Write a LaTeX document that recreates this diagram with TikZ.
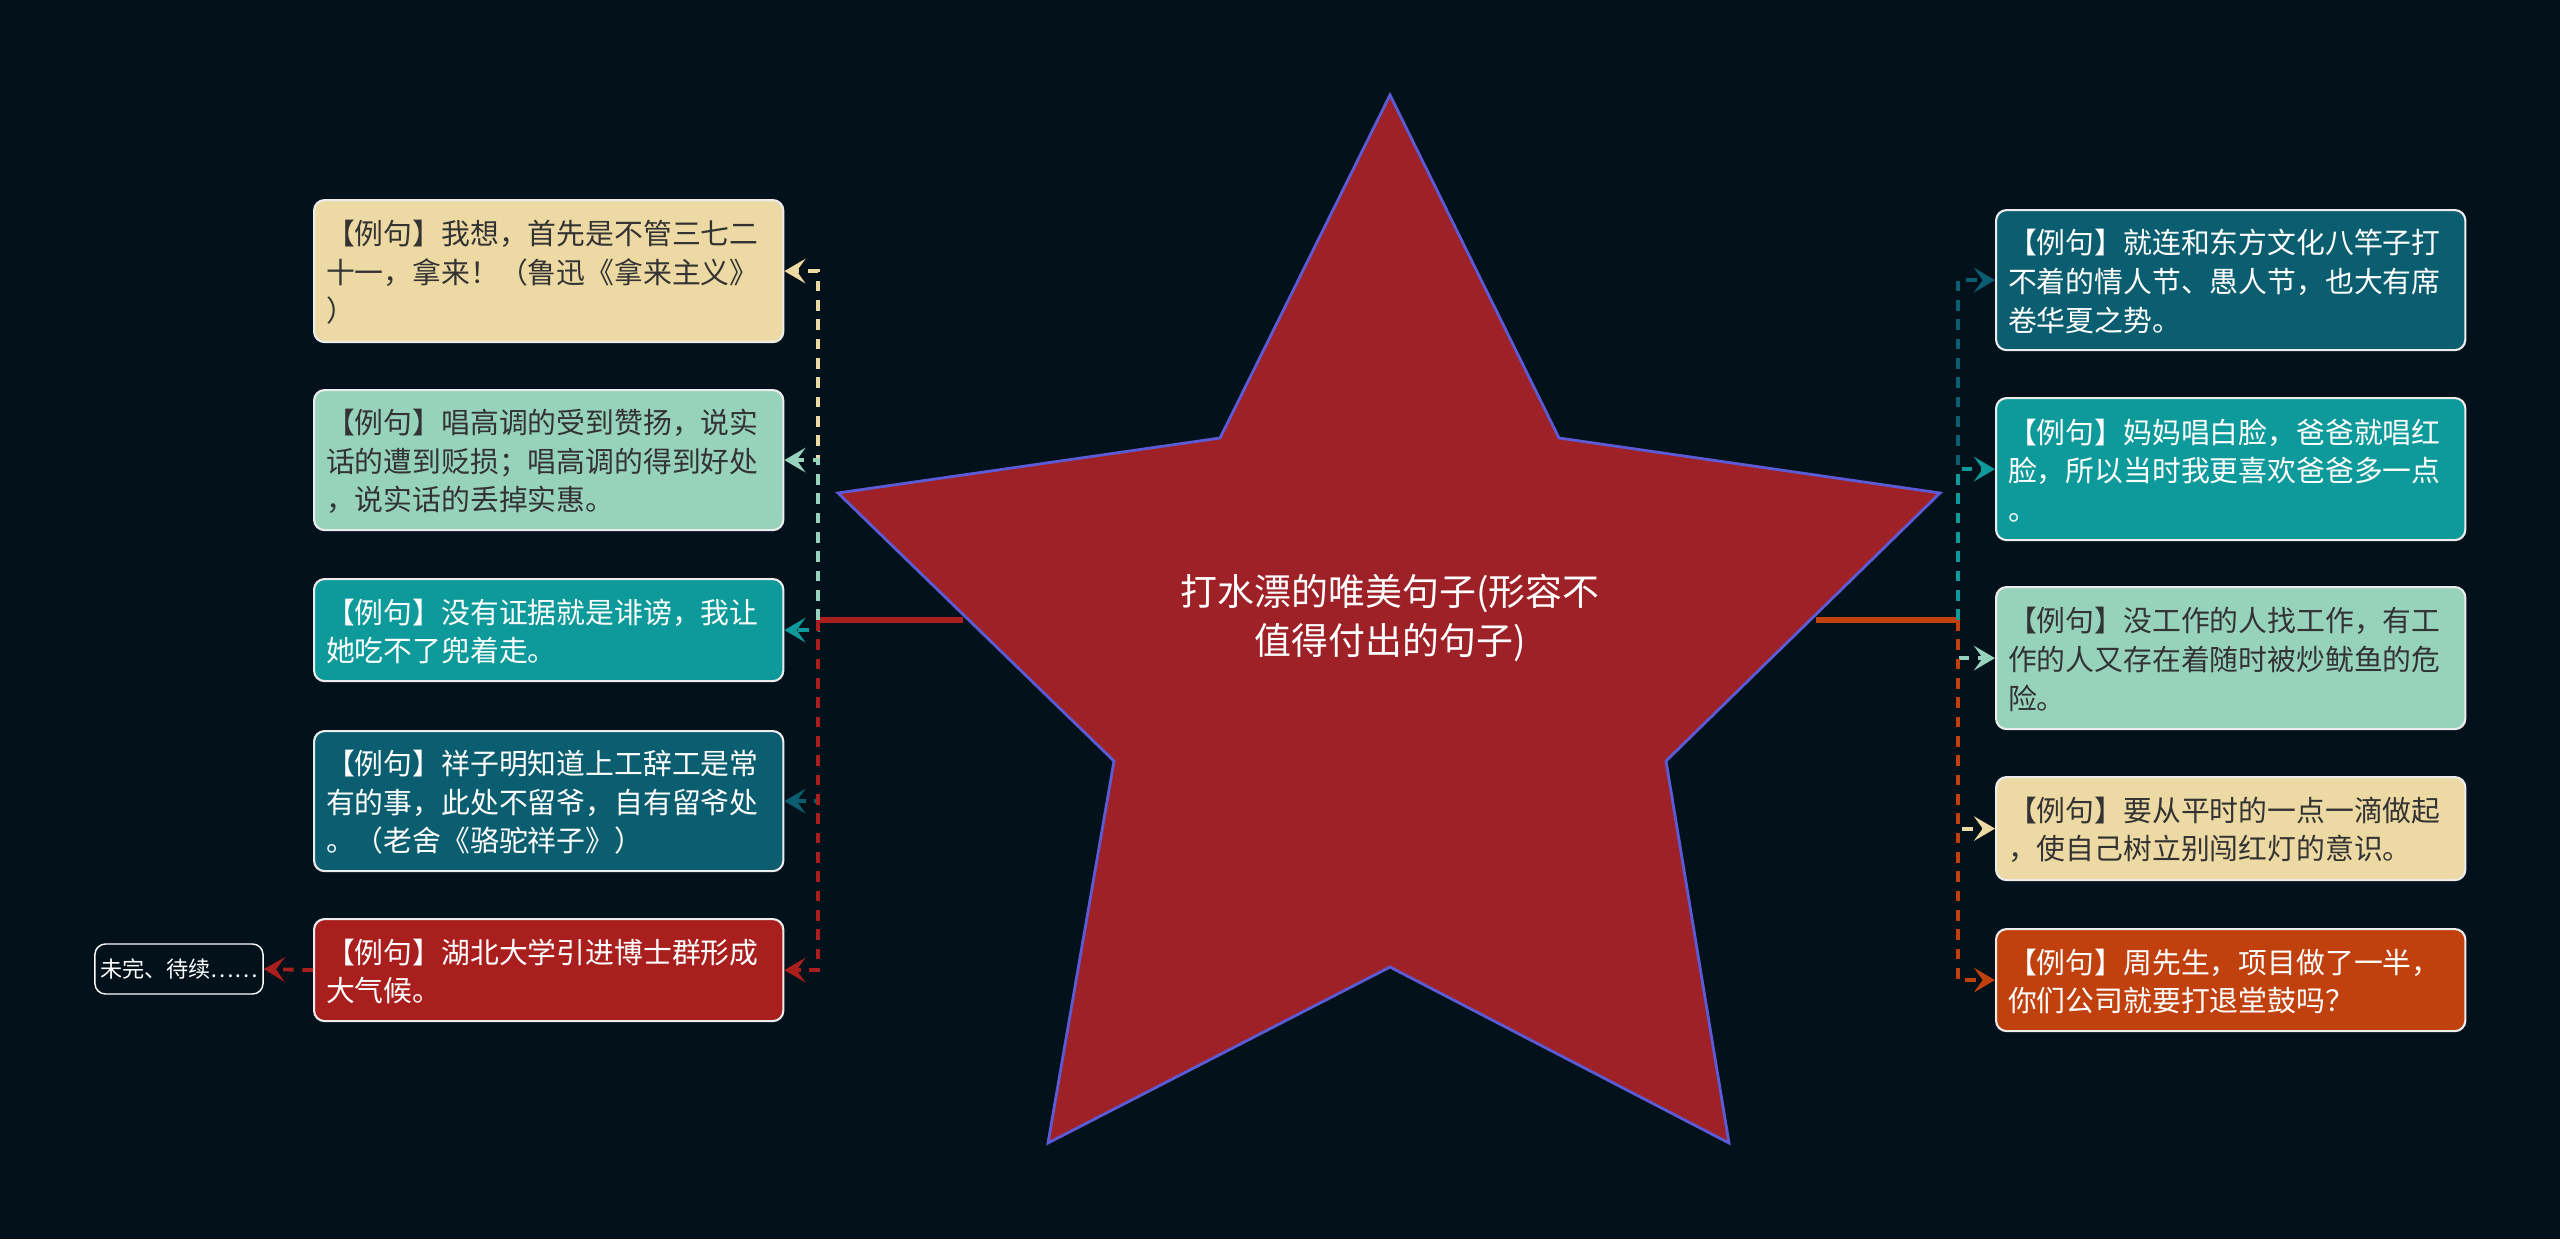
\documentclass[tikz,border=0pt]{standalone}
\usepackage{fontspec}
\setmainfont{Noto Sans CJK SC}
\usetikzlibrary{arrows.meta}
\definecolor{bg}{HTML}{03111A}
\definecolor{cy}{HTML}{EDD9A3}
\definecolor{cmint}{HTML}{97D3BC}
\definecolor{ct}{HTML}{0E9A9A}
\definecolor{cd}{HTML}{0B5E6F}
\definecolor{cr}{HTML}{A91F1E}
\definecolor{co}{HTML}{C0400E}
\definecolor{star}{HTML}{9E2127}
\definecolor{starline}{HTML}{5B5BD6}
\definecolor{dk}{HTML}{333333}
\tikzset{
  box/.style={draw=white!85!gray, line width=0.6pt, rounded corners=3pt, minimum width=4.69cm, text width=4.45cm, align=left, inner sep=0pt, font=\fontsize{8.2}{11}\selectfont, anchor=north west},
  conn/.style={dashed, line width=1.1pt, dash pattern=on 3pt off 2.5pt, -{Stealth[length=6pt,width=7pt,inset=2.5pt]}},
}
\begin{document}
\begin{tikzpicture}[x=0.01cm,y=-0.01cm]
\fill[bg] (0,0) rectangle (2560,1239);
\useasboundingbox (0,0) rectangle (2560,1239);
\fill[star] (1390,95) -- (1559,438) -- (1940,493) -- (1666,761) -- (1729,1143) -- (1390,967) -- (1048,1143) -- (1114,761) -- (838,493) -- (1220,438) -- cycle;
\coordinate (lt) at (818,620);
\coordinate (rt) at (1958,620);
\draw[cr, line width=1.5pt] (963,620) -- (lt);
\draw[co, line width=1.5pt] (1816,620) -- (rt);
\draw[draw=starline, line width=0.8pt] (1390,95) -- (1559,438) -- (1940,493) -- (1666,761) -- (1729,1143) -- (1390,967) -- (1048,1143) -- (1114,761) -- (838,493) -- (1220,438) -- cycle;
\node[text=white, align=center, font=\fontsize{10.5}{14}\selectfont] (c) at (1390,618) {打水漂的唯美句子(形容不\\值得付出的句子)};
\node[box, fill=cy, text=dk, minimum height=1.42cm] (l1) at (313,199) {\strut【例句】我想，首先是不管三七二\\十一，拿来！（鲁迅《拿来主义》\\）};
\node[box, fill=cmint, text=dk, minimum height=1.40cm] (l2) at (313,389) {\strut【例句】唱高调的受到赞扬，说实\\话的遭到贬损；唱高调的得到好处\\，说实话的丢掉实惠。};
\node[box, fill=ct, text=white, minimum height=1.02cm] (l3) at (313,578) {\strut【例句】没有证据就是诽谤，我让\\她吃不了兜着走。};
\node[box, fill=cd, text=white, minimum height=1.40cm] (l4) at (313,730) {\strut【例句】祥子明知道上工辞工是常\\有的事，此处不留爷，自有留爷处\\。（老舍《骆驼祥子》）};
\node[box, fill=cr, text=white, minimum height=1.02cm] (l5) at (313,918) {\strut【例句】湖北大学引进博士群形成\\大气候。};
\node[draw=white, fill=bg, text=white, rounded corners=3pt, minimum width=1.68cm, minimum height=0.5cm, inner sep=0pt, font=\fontsize{6.3}{8}\selectfont] (u) at (179,969) {未完、待续……};
\node[box, fill=cd, text=white, minimum height=1.40cm] (r1) at (1995,209) {\strut【例句】就连和东方文化八竿子打\\不着的情人节、愚人节，也大有席\\卷华夏之势。};
\node[box, fill=ct, text=white, minimum height=1.42cm] (r2) at (1995,397) {\strut【例句】妈妈唱白脸，爸爸就唱红\\脸，所以当时我更喜欢爸爸多一点\\。};
\node[box, fill=cmint, text=dk, minimum height=1.42cm] (r3) at (1995,586) {\strut【例句】没工作的人找工作，有工\\作的人又存在着随时被炒鱿鱼的危\\险。};
\node[box, fill=cy, text=dk, minimum height=1.03cm] (r4) at (1995,776) {\strut【例句】要从平时的一点一滴做起\\，使自己树立别闯红灯的意识。};
\node[box, fill=co, text=white, minimum height=1.02cm] (r5) at (1995,928) {\strut【例句】周先生，项目做了一半，\\你们公司就要打退堂鼓吗？};
\draw[conn, cy] (lt) |- (l1.east);
\draw[conn, cmint] (lt) |- (l2.east);
\draw[conn, ct] (lt) |- (l3.east);
\draw[conn, cd] (lt) |- (l4.east);
\draw[conn, cr] (lt) |- (l5.east);
\draw[conn, cr] (l5.west) -- (u.east);
\draw[conn, cd] (rt) |- (r1.west);
\draw[conn, ct] (rt) |- (r2.west);
\draw[conn, cmint] (rt) |- (r3.west);
\draw[conn, cy] (rt) |- (r4.west);
\draw[conn, co] (rt) |- (r5.west);
\end{tikzpicture}
\end{document}
